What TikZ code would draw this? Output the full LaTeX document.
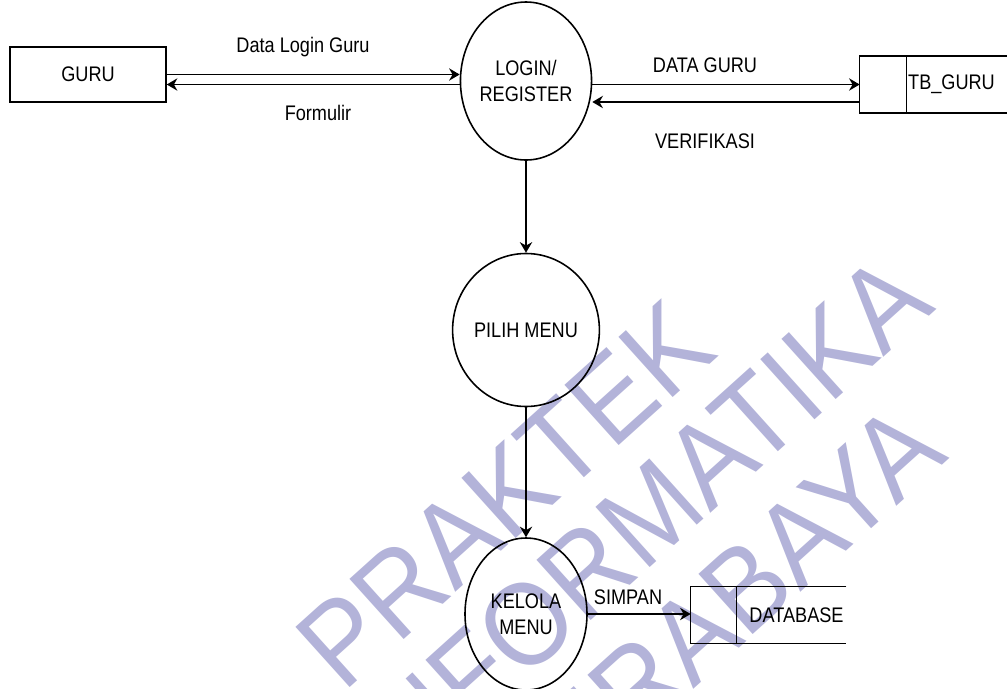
\documentclass[tikz,border=0pt]{standalone}
\usepackage{fontspec}
\setmainfont{Liberation Sans}[FakeStretch=0.86]
\newfontfamily\wmfont{Liberation Sans}[FakeStretch=0.92]
\definecolor{WaterBlue}{RGB}{179,179,217}
\usetikzlibrary{arrows.meta, shapes.geometric}

\begin{document}
\begin{tikzpicture}[
  font=\fontsize{12}{14.5}\selectfont,
  entity/.style={draw, line width=0.9pt, minimum width=3.12cm, minimum height=1.1cm},
  process/.style={draw, ellipse, line width=0.9pt, inner sep=0pt,
    minimum width=2.44cm, minimum height=3.06cm, align=center},
  store/.style={inner sep=0pt, minimum height=1.13cm},
  flow/.style={-{Stealth[length=6pt, width=7pt]}, line width=0.9pt},
  wmark/.style={rotate=42, anchor=base east, inner sep=0pt, text=WaterBlue,
    font=\wmfont\fontsize{67}{67}\selectfont}
]
  \useasboundingbox (0,0) rectangle (20.14,-13.76);
  % Watermark behind the diagram
  \begin{scope}
    \clip (0,0) rectangle (20.14,-13.76);
    \node[wmark] (wmone) at (14.4,-7.1) {PRAKTEK};
    \node[wmark] (wmtwo) at (18.74,-6.18) {INFORMATIKA};
    \node[wmark] (wmthree) at (19.0,-9.16) {SURABAYA};
  \end{scope}
  % Entity and processes
  \node[entity] (guru) at (1.76,-1.49) {GURU};
  \node[process, minimum width=2.36cm, minimum height=3.16cm] (login) at (10.52,-1.62) {LOGIN/\\REGISTER};
  \node[process] (pilih) at (10.52,-6.6) {PILIH MENU};
  \node[process, minimum height=3.04cm] (kelola) at (10.52,-12.28) {KELOLA\\MENU};
  % Data stores
  \node[store, minimum width=2.94cm] (tbguru) at (18.67,-1.69) {};
  \draw[line width=0.9pt] (tbguru.north east) -- (tbguru.north west)
    -- (tbguru.south west) -- (tbguru.south east);
  \draw[line width=0.9pt] ([xshift=0.94cm]tbguru.north west) -- ([xshift=0.94cm]tbguru.south west);
  \node (tbgurutext) at (19.03,-1.69) {TB\_GURU};
  \node[store, minimum width=3.1cm, minimum height=1.12cm] (dbase) at (15.37,-12.3) {};
  \draw[line width=0.9pt] (dbase.north east) -- (dbase.north west)
    -- (dbase.south west) -- (dbase.south east);
  \draw[line width=0.9pt] ([xshift=0.92cm]dbase.north west) -- ([xshift=0.92cm]dbase.south west);
  \node (dbasetext) at (15.93,-12.3) {DATABASE};
  % Flows
  \draw[flow] (guru.east) -- (guru.east -| login.west);
  \draw[flow] ([yshift=-2mm]guru.east -| login.west) -- ([yshift=-2mm]guru.east);
  \draw[flow] (tbguru.west -| login.east) -- (tbguru.west);
  \draw[flow] ([yshift=-3.5mm]tbguru.west) -- ([yshift=-3.5mm]tbguru.west -| login.east);
  \draw[flow] (login) -- (pilih);
  \draw[flow] (pilih) -- (kelola);
  \draw[flow] (kelola.east) -- (kelola.east -| dbase.west);
  % Flow labels
  \node (lbllogin) at (6.06,-0.94) {Data Login Guru};
  \node (lblform) at (6.36,-2.26) {Formulir};
  \node (lbldata) at (14.1,-1.31) {DATA GURU};
  \node (lblverif) at (14.1,-2.83) {VERIFIKASI};
  \node (lblsimpan) at (12.56,-11.94) {SIMPAN};
\end{tikzpicture}
\end{document}
